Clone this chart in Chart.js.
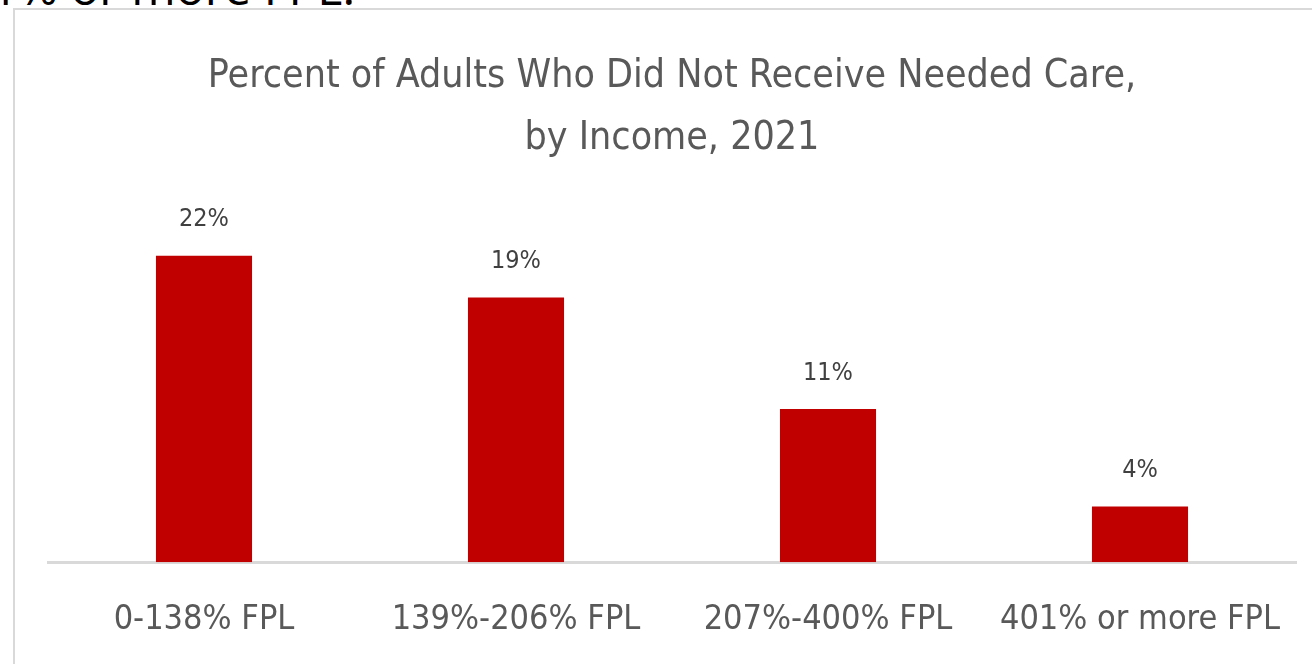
<!DOCTYPE html>
<html>
<head>
<meta charset="utf-8">
<title>Percent of Adults Who Did Not Receive Needed Care, by Income, 2021</title>
<script src="https://cdn.jsdelivr.net/npm/chart.js@4.4.1/dist/chart.umd.min.js"></script>
<style>
  html, body { margin: 0; padding: 0; background: #fff; overflow: hidden; }
  body { width: 1312px; height: 664px; position: relative; }
  .slide-text {
    position: absolute; right: 957px; top: -37px;
    font-family: "Open Sans", sans-serif; font-size: 48px; line-height: 48px;
    color: #000; white-space: nowrap;
  }
  .frame {
    position: absolute; left: 13px; top: 8px; width: 1400px; height: 700px;
    border: 2px solid #d9d9d9; box-sizing: border-box;
  }
  .wrap { position: absolute; left: 0; top: 0; width: 1312px; height: 664px; overflow: hidden; }
</style>
</head>
<body>
<div class="slide-text">adults with incomes 401% or more FPL.</div>
<div class="frame"></div>
<div class="wrap"><canvas id="grafico" width="1312" height="664"></canvas></div>
<script>
// Income groups and share who went without needed care (%)
const categorias = ['0-138% FPL', '139%-206% FPL', '207%-400% FPL', '401% or more FPL'];
const porcentajes = [22, 19, 11, 4];
const tituloLineas = ['Percent of Adults Who Did Not Receive Needed Care,', 'by Income, 2021'];

const fuente = '"DejaVu Sans Condensed", "Liberation Sans Narrow", sans-serif';

// draws the value above each bar
const etiquetasValor = {
  id: 'etiquetasValor',
  afterDatasetsDraw(chart) {
    const ctx = chart.ctx;
    const meta = chart.getDatasetMeta(0);
    ctx.save();
    ctx.font = '25px ' + fuente;
    ctx.fillStyle = '#404040';
    ctx.textAlign = 'center';
    ctx.textBaseline = 'middle';
    meta.data.forEach((bar, i) => {
      ctx.fillText(porcentajes[i] + '%', bar.x, bar.y - 36);
    });
    ctx.restore();
  }
};

const ctx = document.getElementById('grafico').getContext('2d');
const chart = new Chart(ctx, {
  type: 'bar',
  data: {
    labels: categorias,
    datasets: [{
      data: porcentajes,
      backgroundColor: '#c00000',
      borderWidth: 0,
      barPercentage: 0.308,
      categoryPercentage: 1
    }]
  },
  options: {
    responsive: false,
    animation: false,
    layout: { padding: { left: 48, right: 16, top: 0, bottom: 23 } },
    plugins: {
      legend: { display: false },
      tooltip: { enabled: false },
      title: {
        display: true,
        text: tituloLineas,
        color: '#595959',
        font: { family: fuente, size: 39, weight: 'normal', lineHeight: 1.59 },
        padding: { top: 46, bottom: 44 }
      }
    },
    scales: {
      y: {
        display: false,
        min: 0,
        max: 25
      },
      x: {
        // invisible tick marks give the gap between the axis line and the labels
        grid: { display: false, drawTicks: true, tickLength: 38, tickColor: 'rgba(0,0,0,0)' },
        border: { display: true, color: '#d9d9d9', width: 3 },
        ticks: {
          color: '#595959',
          padding: 0,
          maxRotation: 0,
          minRotation: 0,
          autoSkip: false,
          font: { family: fuente, size: 34 }
        }
      }
    }
  },
  plugins: [etiquetasValor]
});
</script>
</body>
</html>
